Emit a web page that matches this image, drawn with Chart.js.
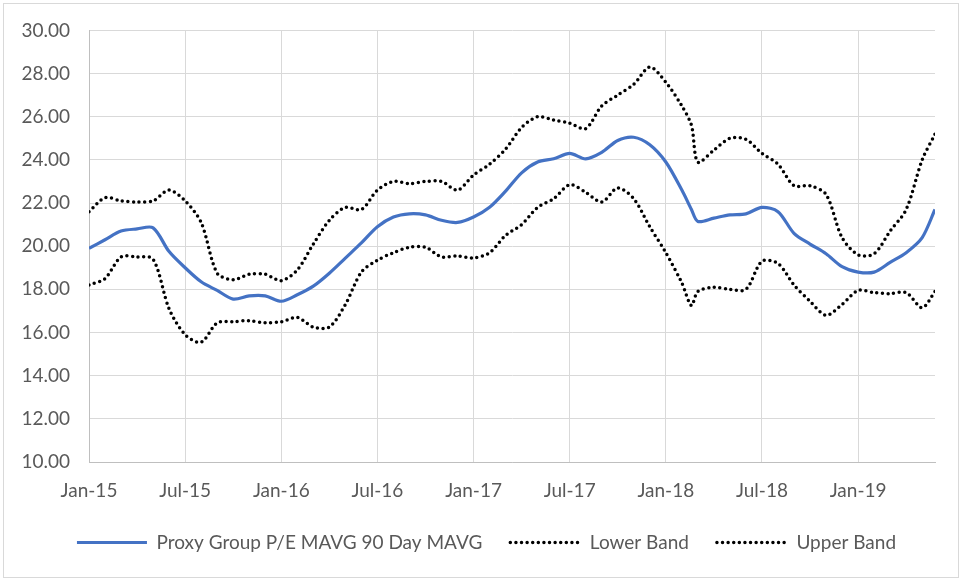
<!DOCTYPE html>
<html>
<head>
<meta charset="utf-8">
<script src="https://cdn.jsdelivr.net/npm/chart.js@4.4.0/dist/chart.umd.min.js"></script>
<style>
html, body { margin: 0; padding: 0; background: #fff; }
#wrap { position: relative; width: 965px; height: 582px; }
#frame { position: absolute; left: 3px; top: 3px; width: 956px; height: 575px; border: 1px solid #d9d9d9; box-sizing: border-box; pointer-events: none; }
</style>
</head>
<body>
<div id="wrap">
  <canvas id="myChart" width="965" height="582"></canvas>
  <div id="frame"></div>
</div>
<script>
// months since Jan-15
var monthPos = [0, 1, 2, 3, 4, 5, 6, 7, 8, 9, 10, 11, 12, 13, 14, 15, 16, 17, 18, 19,
    20, 21, 22, 23, 24, 25, 26, 27, 28, 29, 30, 31, 32, 33, 34, 35, 36, 37, 37.6, 38, 39,
    40, 41, 42, 43, 44, 45, 46, 47, 48, 49, 50, 51, 52, 52.8];

var tickLabels = ['Jan-15', 'Jul-15', 'Jan-16', 'Jul-16', 'Jan-17', 'Jul-17', 'Jan-18', 'Jul-18', 'Jan-19'];

var mavg = [19.9, 20.3, 20.7, 20.8, 20.85, 19.75, 19.0, 18.35, 17.95, 17.55, 17.7, 17.7, 17.45, 17.75, 18.15, 18.75, 19.45, 20.15, 20.9, 21.35,
    21.5, 21.45, 21.2, 21.1, 21.35, 21.8, 22.55, 23.4, 23.9, 24.05, 24.3, 24.05, 24.35, 24.9, 25.05, 24.7, 23.9, 22.6, 21.7, 21.15, 21.3,
    21.45, 21.5, 21.8, 21.6, 20.6, 20.1, 19.65, 19.05, 18.8, 18.8, 19.25, 19.7, 20.4, 21.7];

var lowerBand = [18.2, 18.5, 19.5, 19.5, 19.4, 17.1, 15.9, 15.55, 16.45, 16.5, 16.55, 16.45, 16.5, 16.7, 16.25, 16.25, 17.3, 18.8, 19.35, 19.7,
    19.95, 19.95, 19.5, 19.55, 19.45, 19.7, 20.5, 21.0, 21.8, 22.2, 22.85, 22.5, 22.05, 22.7, 22.2, 20.9, 19.7, 18.3, 17.25, 17.9, 18.1,
    18.0, 18.0, 19.3, 19.2, 18.2, 17.45, 16.8, 17.3, 17.95, 17.85, 17.8, 17.85, 17.15, 17.9];

var upperBand = [21.6, 22.25, 22.1, 22.05, 22.1, 22.6, 22.1, 21.1, 18.75, 18.45, 18.7, 18.7, 18.4, 18.9, 20.1, 21.2, 21.8, 21.7, 22.6, 23.0,
    22.9, 23.0, 23.0, 22.6, 23.3, 23.8, 24.5, 25.5, 26.0, 25.85, 25.7, 25.45, 26.5, 27.0, 27.5, 28.3, 27.6, 26.5, 25.6, 23.9, 24.45,
    25.0, 24.95, 24.3, 23.8, 22.8, 22.8, 22.4, 20.4, 19.6, 19.65, 20.7, 21.7, 24.0, 25.2];

function toPoints(values) {
    return values.map(function(v, i) { return {x: monthPos[i], y: v}; });
}

var labelFont = {family: 'Lato', size: 19};

// nudge the legend a bit to the right, like the original
var legendNudge = {
    id: 'legendNudge',
    afterLayout: function(chart) {
        chart.legend.left += 13;
        chart.legend.right += 13;
    }
};

var ctx = document.getElementById('myChart');
var chart = new Chart(ctx, {
    type: 'line',
    data: {
        datasets: [
            {
                label: 'Proxy Group P/E MAVG 90 Day MAVG',
                data: toPoints(mavg),
                borderColor: '#4472C4',
                backgroundColor: '#4472C4',
                borderWidth: 3.2,
                pointRadius: 0,
                tension: 0.3
            },
            {
                label: 'Lower Band',
                data: toPoints(lowerBand),
                borderColor: '#000000',
                backgroundColor: '#000000',
                borderWidth: 3.5,
                borderDash: [0, 5.6],
                borderCapStyle: 'round',
                pointRadius: 0,
                tension: 0.3
            },
            {
                label: 'Upper Band',
                data: toPoints(upperBand),
                borderColor: '#000000',
                backgroundColor: '#000000',
                borderWidth: 3.5,
                borderDash: [0, 5.6],
                borderCapStyle: 'round',
                pointRadius: 0,
                tension: 0.3
            }
        ]
    },
    plugins: [legendNudge],
    options: {
        responsive: false,
        animation: false,
        layout: {
            padding: {top: 30, right: 30, left: 12, bottom: 20}
        },
        plugins: {
            legend: {
                position: 'bottom',
                labels: {
                    boxWidth: 70,
                    boxHeight: 0,
                    color: '#595959',
                    font: labelFont,
                    padding: 28
                }
            },
            tooltip: {enabled: false}
        },
        scales: {
            x: {
                type: 'linear',
                min: 0,
                max: 52.8,
                grid: {color: '#d9d9d9', drawTicks: false},
                border: {color: '#bfbfbf'},
                ticks: {
                    stepSize: 6,
                    includeBounds: false,
                    autoSkip: false,
                    maxRotation: 0,
                    padding: 17,
                    color: '#595959',
                    font: labelFont,
                    callback: function(v) { return tickLabels[v / 6]; }
                },
                afterFit: function(scale) { scale.height = 43; }
            },
            y: {
                min: 10,
                max: 30,
                grid: {color: '#d9d9d9', drawTicks: false},
                border: {color: '#bfbfbf'},
                ticks: {
                    stepSize: 2,
                    padding: 19,
                    color: '#595959',
                    font: labelFont,
                    callback: function(v) { return v.toFixed(2); }
                },
                afterFit: function(scale) { scale.width = 77; }
            }
        }
    }
});
</script>
</body>
</html>
